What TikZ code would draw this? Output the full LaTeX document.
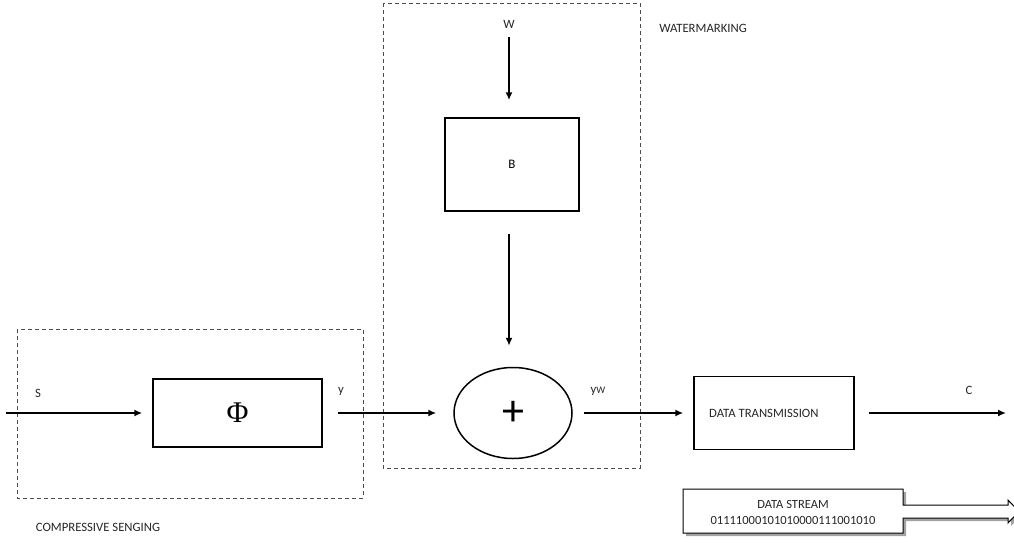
\documentclass[tikz,border=0pt]{standalone}
\usepackage{fontspec}
\setmainfont{Carlito}
\newfontfamily\serifphi{Liberation Serif}
\usetikzlibrary{arrows.meta,shapes.geometric,shadows}
\begin{document}
\begin{tikzpicture}[x=1pt,y=-1pt,
  lbl/.style={font=\fontsize{12.7}{14}\selectfont, text=black!85, inner sep=0pt},
  blk/.style={draw=black, line width=1.5pt, inner sep=0pt},
  grp/.style={draw=black!70, line width=0.8pt, dash pattern=on 4pt off 3pt},
  flow/.style={line width=2pt, -{Latex[length=8pt,width=7pt]}}]
\useasboundingbox (0,0) rectangle (1014,543);
% groups
\draw[grp] (17,329) rectangle (363,498);
\draw[grp] (383,3) rectangle (640,468);
% blocks
\node[blk, minimum width=169pt, minimum height=68pt] (phi) at (237.5,413) {\serifphi\fontsize{30}{32}\selectfont Φ};
\node[blk, minimum width=134pt, minimum height=93pt] (B) at (512,164.5) {\fontsize{13}{15}\selectfont B};
\node[blk, ellipse, minimum width=118pt, minimum height=91pt] (sum) at (513,413) {\fontsize{44}{46}\selectfont +};
\node[blk, minimum width=160pt, minimum height=73pt] (dt) at (774,413) {};
\node[lbl, anchor=west] (dtt) at (709,413) {DATA TRANSMISSION};
% labels
\node[lbl] (ls) at (38,393) {S};
\node[lbl] (ly) at (341,391) {y};
\node[lbl] (lw) at (509,24) {W};
\node[lbl] (lyw) at (598,391) {y\raisebox{-0.5pt}{\fontsize{10}{11}\selectfont W}};
\node[lbl] (lc) at (969,390) {C};
\node[lbl] (lwm) at (703,28) {WATERMARKING};
\node[lbl] (lcs) at (98,527) {COMPRESSIVE SENGING};
% free ends
\coordinate (sin) at (6,413);
\coordinate (win) at (509,37);
\coordinate (cout) at (1006,413);
% connectors
\draw[flow, shorten >=10pt] (sin) -- (sin -| phi.west);
\draw[flow, shorten <=15pt, shorten >=17pt] (phi.east) -- (phi.east -| sum.west);
\draw[flow, shorten >=17pt] (win) -- (win |- B.north);
\draw[flow, shorten <=22pt, shorten >=21pt] (win |- B.south) -- (win |- sum.north);
\draw[flow, shorten <=11pt, shorten >=10pt] (sum.east) -- (sum.east -| dt.west);
\draw[flow, shorten <=14pt] (dt.east) -- (cout);
% data stream callout
\draw[line width=1pt, fill=white, drop shadow={shadow xshift=3pt, shadow yshift=-3pt, fill=black!60, opacity=0.6}]
  (683,489) -- (903,489) -- (903,505) -- (1008,505) -- (1008,500) -- (1019,511.5) -- (1008,523) -- (1008,518) -- (903,518) -- (903,533) -- (683,533) -- cycle;
\node[lbl, align=center, font=\fontsize{12.5}{16}\selectfont] (ds) at (793,512.5) {DATA STREAM\\01111000101010000111001010};
\end{tikzpicture}
\end{document}
